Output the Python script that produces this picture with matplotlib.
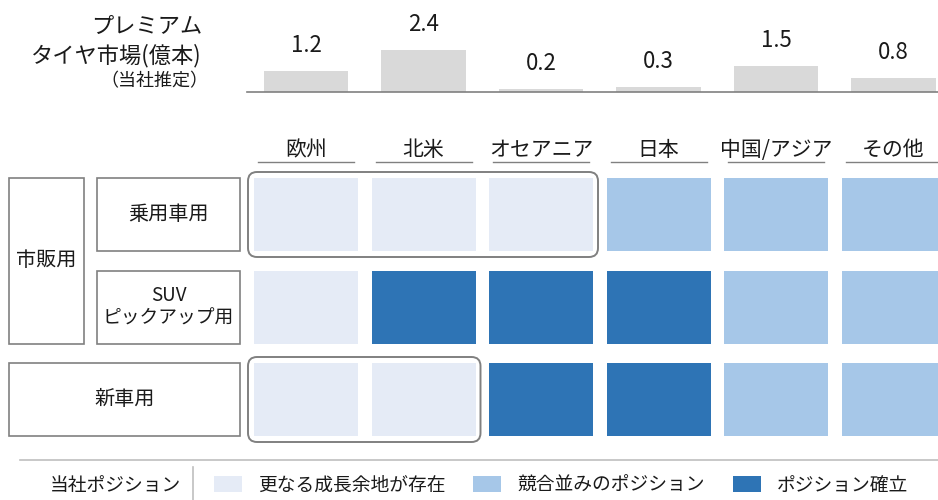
import matplotlib.pyplot as plt
from matplotlib.patches import Rectangle, FancyBboxPatch

plt.rcParams['font.family'] = ['Noto Sans CJK JP', 'DejaVu Sans']

# data
regions = ['欧州', '北米', 'オセアニア', '日本', '中国/アジア', 'その他']
market = [1.2, 2.4, 0.2, 0.3, 1.5, 0.8]  # 億本
rows = ['乗用車用', 'SUV\nピックアップ用', '新車用']
# 0 = 更なる成長余地が存在, 1 = 競合並みのポジション, 2 = ポジション確立
position = [
    [0, 0, 0, 1, 1, 1],
    [0, 2, 2, 2, 1, 1],
    [0, 0, 2, 2, 1, 1],
]
legend_labels = ['更なる成長余地が存在', '競合並みのポジション', 'ポジション確立']
colors = ['#E5EBF6', '#A6C7E8', '#2E74B5']
highlight = [(0, 0, 2), (2, 0, 1)]  # row, first col, last col

W, H = 938, 500
fig = plt.figure(figsize=(W / 100, H / 100), dpi=100)

# overlay axes in pixel units
ax = fig.add_axes([0, 0, 1, 1])
ax.set_xlim(0, W)
ax.set_ylim(H, 0)
ax.axis('off')

col_x0, col_pitch, col_w = 254, 117.5, 104
row_y0, row_pitch, row_h = 178, 92.5, 73
edge = '#808080'
txt = '#1a1a1a'

# top bar chart
bx = fig.add_axes([247 / W, (H - 92) / H, (W - 247) / W, 60 / H])
bx.bar(range(len(market)), market, width=0.715, color='#D9D9D9')
bx.set_xlim((247 - col_x0 - col_w / 2) / col_pitch, (W - col_x0 - col_w / 2) / col_pitch)
bx.set_ylim(0, 60 / 17.5)
for i, v in enumerate(market):
    bx.annotate(f'{v}', (i, v), xytext=(0, 10), textcoords='offset points',
                ha='center', va='bottom', fontsize=16, color=txt)
for s in ['top', 'left', 'right']:
    bx.spines[s].set_visible(False)
bx.spines['bottom'].set_color('#808080')
bx.spines['bottom'].set_linewidth(1.2)
bx.set_xticks([])
bx.set_yticks([])
bx.patch.set_alpha(0)

ax.text(202, 26, 'プレミアム', ha='right', va='center', fontsize=16, color=txt)
ax.text(202, 56, 'タイヤ市場(億本)', ha='right', va='center', fontsize=16, color=txt)
ax.text(208, 81, '（当社推定）', ha='right', va='center', fontsize=13, color=txt)

# column headers
for j, name in enumerate(regions):
    cx = col_x0 + j * col_pitch + col_w / 2
    ax.text(cx, 150, name, ha='center', va='center', fontsize=15, color=txt)
    ax.plot([cx - 48, cx + 48], [162, 162], color='#808080', lw=1)

# matrix cells
for i, r in enumerate(position):
    for j, p in enumerate(r):
        ax.add_patch(Rectangle((col_x0 + j * col_pitch, row_y0 + i * row_pitch),
                               col_w, row_h, facecolor=colors[p], edgecolor='none'))

for i, c0, c1 in highlight:
    x0 = col_x0 + c0 * col_pitch - 6
    x1 = col_x0 + c1 * col_pitch + col_w + 5
    y0 = row_y0 + i * row_pitch - 6
    ax.add_patch(FancyBboxPatch((x0, y0), x1 - x0, row_h + 12,
                                boxstyle='round,pad=0,rounding_size=9',
                                facecolor='none', edgecolor=edge, lw=1.4))

# row label boxes
def label_box(x0, y0, x1, y1, text, size=14.5):
    ax.add_patch(Rectangle((x0, y0), x1 - x0, y1 - y0, facecolor='white',
                           edgecolor=edge, lw=1.2))
    ax.text((x0 + x1) / 2, (y0 + y1) / 2, text, ha='center', va='center',
            fontsize=size, color=txt, linespacing=1.1)

label_box(9, row_y0, 84, row_y0 + row_pitch + row_h, '市販用')
label_box(97, row_y0, 240, row_y0 + row_h, rows[0])
label_box(97, row_y0 + row_pitch, 240, row_y0 + row_pitch + row_h, rows[1], size=13.5)
label_box(9, row_y0 + 2 * row_pitch, 240, row_y0 + 2 * row_pitch + row_h, rows[2])

# legend
ax.plot([20, W], [460, 460], color='#BFBFBF', lw=1.2)
ax.plot([193, 193], [467, 500], color='#BFBFBF', lw=1.2)
ax.text(115, 485, '当社ポジション', ha='center', va='center', fontsize=13.5, color=txt)
leg_x = [214, 473, 733]
for k, lab in enumerate(legend_labels):
    ax.add_patch(Rectangle((leg_x[k], 476), 28, 16, facecolor=colors[k], edgecolor='none'))
    ax.text(leg_x[k] + 44, 485, lab, ha='left', va='center', fontsize=13.5, color=txt)

fig.savefig('out.png', dpi=100)
